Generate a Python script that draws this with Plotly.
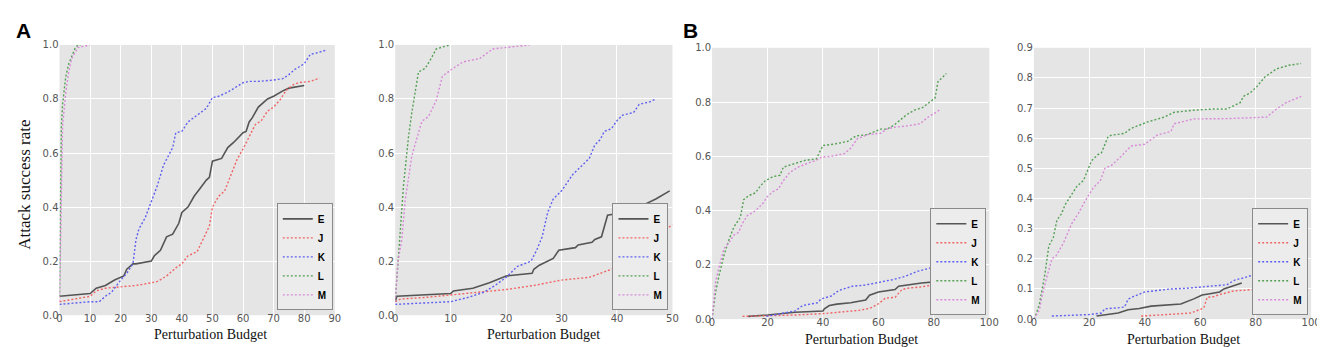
import plotly.graph_objects as go

# ---------------- data ----------------
series_names = ["E", "J", "K", "L", "M"]

# Panel A-left (x range 0-90)
p1_E_x = [0, 10, 12, 15, 18, 21, 22, 24, 25, 30, 31, 33, 35, 37, 39, 40, 42, 44, 46, 48, 49, 50, 53, 55, 57, 60, 61, 62, 63, 65, 68, 70, 73, 75, 80]
p1_E_y = [0.07, 0.08, 0.10, 0.11, 0.13, 0.145, 0.17, 0.19, 0.19, 0.20, 0.22, 0.24, 0.29, 0.30, 0.34, 0.38, 0.40, 0.44, 0.47, 0.50, 0.51, 0.57, 0.58, 0.62, 0.64, 0.675, 0.68, 0.715, 0.73, 0.77, 0.80, 0.81, 0.83, 0.84, 0.85]
p1_J_x = [0, 5, 10, 12, 15, 20, 25, 30, 32, 35, 38, 40, 42, 45, 47, 49, 50, 52, 54, 56, 58, 60, 62, 64, 66, 68, 70, 72, 74, 76, 78, 82, 85]
p1_J_y = [0.05, 0.06, 0.07, 0.09, 0.10, 0.105, 0.11, 0.12, 0.125, 0.145, 0.175, 0.19, 0.22, 0.235, 0.28, 0.33, 0.40, 0.44, 0.46, 0.52, 0.575, 0.615, 0.66, 0.705, 0.72, 0.755, 0.77, 0.795, 0.83, 0.85, 0.86, 0.865, 0.877]
p1_K_x = [0, 10, 13, 15, 17, 20, 22, 24, 25, 26, 28, 30, 32, 34, 36, 37, 38, 40, 42, 45, 48, 50, 52, 55, 57, 60, 62, 65, 70, 73, 75, 77, 80, 82, 84, 87]
p1_K_y = [0.04, 0.05, 0.05, 0.07, 0.085, 0.13, 0.155, 0.19, 0.28, 0.32, 0.36, 0.42, 0.48, 0.555, 0.60, 0.62, 0.675, 0.68, 0.715, 0.74, 0.765, 0.805, 0.81, 0.825, 0.84, 0.86, 0.865, 0.865, 0.87, 0.875, 0.89, 0.91, 0.93, 0.965, 0.97, 0.98]
p1_L_x = [0, 0.3, 0.6, 1, 2, 3, 4, 5, 6, 7]
p1_L_y = [0.07, 0.5, 0.7, 0.78, 0.88, 0.93, 0.96, 0.985, 1.0, 1.0]
p1_M_x = [0, 0.2, 0.5, 1, 2, 3, 4, 5, 6, 8, 10]
p1_M_y = [0.05, 0.2, 0.5, 0.7, 0.82, 0.9, 0.95, 0.97, 0.99, 0.995, 1.0]

# Panel A-right (x range 0-50)
p2_E_x = [0, 0.3, 10, 10.5, 14, 17, 20, 22, 24.7, 25, 26, 28.5, 29.5, 32.5, 33, 35.5, 36, 37.2, 38.3, 44, 45, 47, 49.5]
p2_E_y = [0.05, 0.07, 0.08, 0.09, 0.10, 0.12, 0.145, 0.15, 0.155, 0.17, 0.185, 0.21, 0.24, 0.25, 0.26, 0.27, 0.28, 0.29, 0.37, 0.39, 0.41, 0.43, 0.46]
p2_J_x = [0, 1, 5, 10, 15, 20, 25, 30, 35, 37, 39, 41, 42, 44, 46, 47.5, 49, 50]
p2_J_y = [0.05, 0.06, 0.065, 0.075, 0.085, 0.095, 0.11, 0.13, 0.14, 0.155, 0.17, 0.185, 0.2, 0.23, 0.255, 0.28, 0.32, 0.335]
p2_K_x = [0, 10, 13, 16, 18, 20, 22, 24.5, 25.5, 26.5, 27.5, 28.5, 30, 32, 33.5, 35, 36, 37, 37.7, 39, 40, 41, 43, 44, 46, 47]
p2_K_y = [0.04, 0.05, 0.065, 0.085, 0.11, 0.14, 0.18, 0.2, 0.24, 0.29, 0.38, 0.43, 0.46, 0.52, 0.55, 0.58, 0.63, 0.65, 0.68, 0.69, 0.72, 0.74, 0.75, 0.78, 0.79, 0.80]
p2_L_x = [0, 0.5, 1, 1.5, 2.4, 3, 4.2, 5.4, 6.5, 7.4, 9, 10]
p2_L_y = [0.05, 0.2, 0.35, 0.48, 0.66, 0.75, 0.90, 0.913, 0.95, 0.985, 0.995, 1.0]
p2_M_x = [0, 0.5, 1.2, 1.8, 3, 4.8, 6, 7.4, 8.5, 10, 12.2, 15.2, 17.6, 20, 24.3]
p2_M_y = [0.05, 0.2, 0.28, 0.425, 0.59, 0.717, 0.735, 0.794, 0.883, 0.907, 0.937, 0.949, 0.985, 0.99, 1.0]

# Panel B-left (x range 0-100)
p3_E_x = [13, 20, 30, 40, 40.5, 42.3, 45, 50, 55.4, 56.8, 60, 66, 67.3, 72, 75.6, 82]
p3_E_y = [0.01, 0.015, 0.025, 0.03, 0.038, 0.05, 0.055, 0.06, 0.07, 0.088, 0.10, 0.109, 0.121, 0.128, 0.133, 0.139]
p3_J_x = [11, 20, 30, 40, 45, 50, 53, 57, 60, 62.5, 66, 68.5, 71.4, 75, 82]
p3_J_y = [0.01, 0.012, 0.015, 0.02, 0.025, 0.028, 0.032, 0.04, 0.056, 0.077, 0.08, 0.109, 0.115, 0.118, 0.129]
p3_K_x = [19.6, 25, 30, 32.7, 38, 39.3, 43, 45.8, 50.6, 55, 60, 65, 69.6, 74.4, 79, 81.5]
p3_K_y = [0.01, 0.02, 0.03, 0.05, 0.06, 0.074, 0.085, 0.106, 0.121, 0.125, 0.135, 0.145, 0.157, 0.177, 0.189, 0.22]
p3_L_x = [0, 1.3, 2.5, 4.3, 6, 7.9, 10.2, 11.4, 13.2, 15.6, 17.4, 19.2, 22, 24.5, 25.7, 28.7, 33.5, 37.6, 40, 44, 48.9, 51.9, 56, 60.8, 63, 65.6, 70.4, 73, 76, 78.5, 80.4, 81.5, 84.5]
p3_L_y = [0.0, 0.10, 0.16, 0.235, 0.29, 0.34, 0.375, 0.44, 0.455, 0.465, 0.49, 0.51, 0.525, 0.53, 0.56, 0.57, 0.585, 0.59, 0.64, 0.645, 0.655, 0.675, 0.68, 0.70, 0.70, 0.715, 0.755, 0.77, 0.78, 0.80, 0.814, 0.875, 0.905]
p3_M_x = [0, 1.3, 2.5, 4.3, 6, 7.9, 9.6, 10.8, 12.6, 15, 16.8, 18.6, 19.8, 22, 23.9, 25.7, 28, 31, 34.6, 37.6, 39.4, 43, 47.7, 50, 52.4, 56, 60.8, 63, 65.6, 70.4, 75, 78, 82]
p3_M_y = [0.0, 0.14, 0.19, 0.26, 0.28, 0.31, 0.32, 0.35, 0.38, 0.395, 0.41, 0.43, 0.45, 0.47, 0.48, 0.51, 0.54, 0.56, 0.575, 0.585, 0.597, 0.60, 0.61, 0.63, 0.665, 0.68, 0.685, 0.70, 0.707, 0.712, 0.72, 0.745, 0.77]

# Panel B-right (x range 0-100, y range 0-0.9)
p4_E_x = [22.6, 30.4, 34, 38, 42.3, 50, 53, 57.7, 60.7, 64, 67, 68.5, 70, 75]
p4_E_y = [0.01, 0.02, 0.031, 0.035, 0.043, 0.047, 0.05, 0.067, 0.08, 0.085, 0.09, 0.10, 0.105, 0.12]
p4_J_x = [38.7, 45, 50, 56.5, 58, 61.3, 62.5, 65, 67.3, 72, 79, 82, 83]
p4_J_y = [0.01, 0.013, 0.015, 0.02, 0.025, 0.037, 0.072, 0.075, 0.082, 0.093, 0.098, 0.109, 0.115]
p4_K_x = [6.5, 15, 20, 24.4, 25.6, 30, 32.7, 34, 36, 40, 42, 45, 49.4, 55, 63.7, 69.6, 72.6, 75, 79, 81.5, 83]
p4_K_y = [0.01, 0.012, 0.015, 0.02, 0.034, 0.037, 0.04, 0.066, 0.075, 0.09, 0.092, 0.096, 0.10, 0.102, 0.109, 0.114, 0.13, 0.135, 0.146, 0.178, 0.19]
p4_L_x = [0, 1, 2, 3, 4, 5.4, 7, 8.3, 10, 11.3, 14, 15.5, 17.9, 20.8, 23, 24.4, 26.8, 28, 32.7, 35, 41, 47, 50.6, 57.7, 65, 69.6, 74.4, 75.6, 78, 80.4, 83.3, 87.5, 92, 96.4]
p4_L_y = [0.0, 0.02, 0.05, 0.1, 0.15, 0.243, 0.27, 0.328, 0.35, 0.38, 0.42, 0.44, 0.46, 0.525, 0.545, 0.552, 0.606, 0.61, 0.616, 0.632, 0.654, 0.67, 0.686, 0.693, 0.697, 0.697, 0.718, 0.739, 0.75, 0.771, 0.803, 0.83, 0.842, 0.848]
p4_M_x = [0, 2, 3, 4, 5, 6.5, 8, 10.7, 13.7, 16, 18.5, 21.4, 24, 25.6, 28, 31.5, 35, 40, 44.6, 49.4, 50.6, 57.7, 70, 84, 87.5, 91, 93, 96.4]
p4_M_y = [0.0, 0.03, 0.08, 0.12, 0.15, 0.2, 0.21, 0.253, 0.317, 0.35, 0.392, 0.435, 0.46, 0.5, 0.51, 0.54, 0.574, 0.58, 0.611, 0.622, 0.648, 0.664, 0.665, 0.67, 0.697, 0.718, 0.725, 0.739]

x_ranges = [[0, 90], [0, 50], [0, 100], [0, 100]]
y_ranges = [[0, 1.0], [0, 1.0], [0, 1.0], [0, 0.9]]
x_dticks = [10, 10, 20, 20]
y_dticks = [0.2, 0.2, 0.2, 0.1]
panel_letters = ["A", "B"]
y_title = "Attack success rate"
x_title = "Perturbation Budget"

panels = [
    [(p1_E_x, p1_E_y), (p1_J_x, p1_J_y), (p1_K_x, p1_K_y), (p1_L_x, p1_L_y), (p1_M_x, p1_M_y)],
    [(p2_E_x, p2_E_y), (p2_J_x, p2_J_y), (p2_K_x, p2_K_y), (p2_L_x, p2_L_y), (p2_M_x, p2_M_y)],
    [(p3_E_x, p3_E_y), (p3_J_x, p3_J_y), (p3_K_x, p3_K_y), (p3_L_x, p3_L_y), (p3_M_x, p3_M_y)],
    [(p4_E_x, p4_E_y), (p4_J_x, p4_J_y), (p4_K_x, p4_K_y), (p4_L_x, p4_L_y), (p4_M_x, p4_M_y)],
]

# ---------------- styling ----------------
W, H = 1325, 347
colors = ["#555555", "#f06464", "#6060f0", "#55a055", "#d88ad8"]
dashes = ["solid", "2px,2px", "2px,2px", "2px,2px", "2px,2px"]
widths = [1.6, 1.4, 1.4, 1.4, 1.4]

# plot-area pixel boxes (left, right, top, bottom)
boxes = [(49, 327, 32, 312), (388, 668, 32, 312), (708, 988, 35, 316), (1033, 1313, 35, 316)]
# legend box pixel anchors (right, bottom)
legend_anchor = [(325, 307), (664, 307), (985, 312), (1310, 312)]
# x-title pixel centres
xtitle_pos = [(201, 332), (538, 332), (859, 337), (1184, 337)]

fig = go.Figure()
for pi, panel in enumerate(panels):
    ax = "" if pi == 0 else str(pi + 1)
    leg = "legend" if pi == 0 else "legend" + str(pi + 1)
    for si, (xs, ys) in enumerate(panel):
        fig.add_trace(go.Scatter(
            x=xs, y=ys, mode="lines", name=series_names[si],
            line=dict(color=colors[si], dash=dashes[si], width=widths[si]),
            xaxis="x" + ax, yaxis="y" + ax, legend=leg,
        ))

layout = dict(
    width=W, height=H,
    margin=dict(l=0, r=0, t=0, b=0),
    paper_bgcolor="white",
    plot_bgcolor="#e5e5e5",
    showlegend=True,
)
tick_font = dict(family="DejaVu Sans", size=10, color="#555555")
for pi in range(4):
    l, r, t, b = boxes[pi]
    ax = "" if pi == 0 else str(pi + 1)
    layout["xaxis" + ax] = dict(
        domain=[l / W, r / W], anchor="y" + ax, range=x_ranges[pi], dtick=x_dticks[pi],
        showgrid=True, gridcolor="white", gridwidth=1, zeroline=False, showline=False,
        ticks="", tickfont=tick_font, ticklabelstandoff=-4,
    )
    layout["yaxis" + ax] = dict(
        domain=[1 - b / H, 1 - t / H], anchor="x" + ax, range=y_ranges[pi], dtick=y_dticks[pi],
        tickformat=".1f", showgrid=True, gridcolor="white", gridwidth=1, zeroline=False, showline=False,
        ticks="", tickfont=tick_font,
    )
    lr, lb = legend_anchor[pi]
    leg = "legend" if pi == 0 else "legend" + str(pi + 1)
    layout[leg] = dict(
        x=lr / W, y=1 - lb / H, xanchor="right", yanchor="bottom",
        bgcolor="#ececec", bordercolor="#8a8a8a", borderwidth=1,
        font=dict(family="Liberation Sans", size=10, color="black", weight="bold"),
        itemwidth=30, tracegroupgap=0,
    )

fig.update_layout(**layout)

for (cx, cy) in xtitle_pos:
    fig.add_annotation(text=x_title, x=cx / W, y=1 - cy / H, xref="paper", yref="paper",
                       xanchor="center", yanchor="middle", showarrow=False,
                       font=dict(family="Liberation Serif", size=14, color="#111"))

fig.add_annotation(text=y_title, x=14 / W, y=1 - 177 / H, xref="paper", yref="paper",
                   xanchor="center", yanchor="middle", showarrow=False, textangle=-90,
                   font=dict(family="Liberation Serif", size=17, color="#111"))

fig.add_annotation(text="<b>" + panel_letters[0] + "</b>", x=3 / W, y=1 - 3 / H, xref="paper", yref="paper",
                   xanchor="left", yanchor="top", showarrow=False,
                   font=dict(family="Liberation Sans", size=21, color="black"))
fig.add_annotation(text="<b>" + panel_letters[1] + "</b>", x=677 / W, y=1 - 3 / H, xref="paper", yref="paper",
                   xanchor="left", yanchor="top", showarrow=False,
                   font=dict(family="Liberation Sans", size=21, color="black"))

fig.write_html("out.html")
